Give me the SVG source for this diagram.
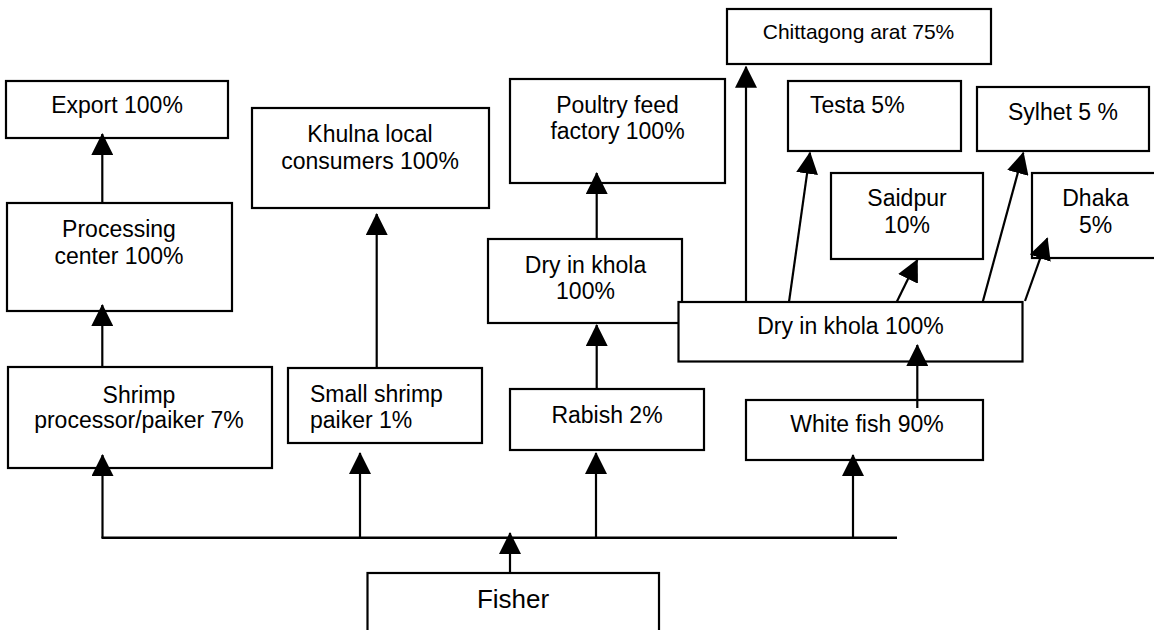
<svg xmlns="http://www.w3.org/2000/svg" width="1154" height="630" viewBox="0 0 1154 630">
<style>
.box{fill:#fff;stroke:#000;stroke-width:2.2}
text{font-family:"Liberation Sans",Arial,sans-serif;font-size:23px;fill:#000;text-anchor:middle}
.l{text-anchor:start}
.c{stroke:#000;stroke-width:2.2;fill:none;marker-end:url(#ah)}
.bus{stroke:#000;stroke-width:2.4;fill:none}
</style>
<defs>
<marker id="ah" viewBox="0 0 22 22" refX="21" refY="11" markerWidth="22" markerHeight="22" markerUnits="userSpaceOnUse" orient="auto">
<path d="M0,0 L22,11 L0,22 z" fill="#000"/>
</marker>
</defs>
<rect width="1154" height="630" fill="#fff"/>
<g id="export"><rect class="box" x="6" y="81" width="222" height="57"/><text x="117" y="113">Export 100%</text></g>
<g id="processing"><rect class="box" x="7" y="203" width="225" height="108"/><text x="119" y="237">Processing</text><text x="119" y="264">center 100%</text></g>
<g id="shrimp-processor"><rect class="box" x="8" y="367" width="264" height="101"/><text x="139" y="403">Shrimp</text><text x="139" y="428">processor/paiker 7%</text></g>
<g id="khulna"><rect class="box" x="252" y="108" width="237" height="100"/><text x="370" y="142">Khulna local</text><text x="370" y="169">consumers 100%</text></g>
<g id="small-shrimp"><rect class="box" x="288" y="368" width="194" height="75"/><text class="l" x="310" y="402">Small shrimp</text><text class="l" x="310" y="428">paiker 1%</text></g>
<g id="poultry"><rect class="box" x="510" y="79" width="215" height="104"/><text x="617.5" y="113">Poultry feed</text><text x="617.5" y="139">factory 100%</text></g>
<g id="dry-left"><rect class="box" x="488" y="239" width="194" height="84"/><text x="585.5" y="273">Dry in khola</text><text x="585.5" y="299">100%</text></g>
<g id="rabish"><rect class="box" x="510" y="389" width="194" height="61"/><text x="607" y="423">Rabish 2%</text></g>
<g id="chittagong"><rect class="box" x="727" y="9" width="264" height="55"/><text x="858.5" y="39" style="font-size:21px">Chittagong arat 75%</text></g>
<g id="testa"><rect class="box" x="788" y="81" width="173" height="70"/><text class="l" x="810" y="113">Testa 5%</text></g>
<g id="sylhet"><rect class="box" x="977" y="87" width="172" height="64"/><text x="1063" y="120">Sylhet 5 %</text></g>
<g id="saidpur"><rect class="box" x="831" y="173" width="152" height="86"/><text x="907" y="206">Saidpur</text><text x="907" y="233">10%</text></g>
<g id="dhaka"><rect class="box" x="1032" y="173" width="130" height="85"/><text x="1095.5" y="206">Dhaka</text><text x="1095.5" y="233">5%</text></g>
<g id="dry-right"><rect class="box" x="678.5" y="302" width="344" height="59.5"/><text x="850.5" y="334">Dry in khola 100%</text></g>
<g id="white-fish"><rect class="box" x="746" y="400" width="237" height="60"/><text x="867" y="432">White fish 90%</text></g>
<g id="fisher"><rect class="box" x="367.5" y="573" width="291.5" height="80"/><text x="513" y="608" style="font-size:26px">Fisher</text></g>
<g id="connectors">
<line class="bus" x1="101.5" y1="537.7" x2="897" y2="537.7"/>
<line class="c" x1="510" y1="573" x2="510" y2="533"/>
<line class="c" x1="102.5" y1="538" x2="102.5" y2="455"/>
<line class="c" x1="360" y1="538" x2="360" y2="453"/>
<line class="c" x1="596" y1="538" x2="596" y2="453"/>
<line class="c" x1="853" y1="538" x2="853" y2="455"/>
<line class="c" x1="102.3" y1="367" x2="102.3" y2="305"/>
<line class="c" x1="102.3" y1="203" x2="102.3" y2="134"/>
<line class="c" x1="376.7" y1="367" x2="376.7" y2="214"/>
<line class="c" x1="596.7" y1="389" x2="596.7" y2="325"/>
<line class="c" x1="596.7" y1="239" x2="596.7" y2="173"/>
<line class="c" x1="746" y1="302" x2="746" y2="66.7"/>
<line class="c" x1="789" y1="302" x2="810" y2="152.7"/>
<line class="c" x1="896.7" y1="302" x2="917.3" y2="260"/>
<line class="c" x1="982.7" y1="302" x2="1023.3" y2="152.7"/>
<line class="c" x1="1025" y1="301" x2="1047.3" y2="238.3"/>
<line class="c" x1="917.3" y1="408" x2="917.3" y2="345"/>
</g>
</svg>
